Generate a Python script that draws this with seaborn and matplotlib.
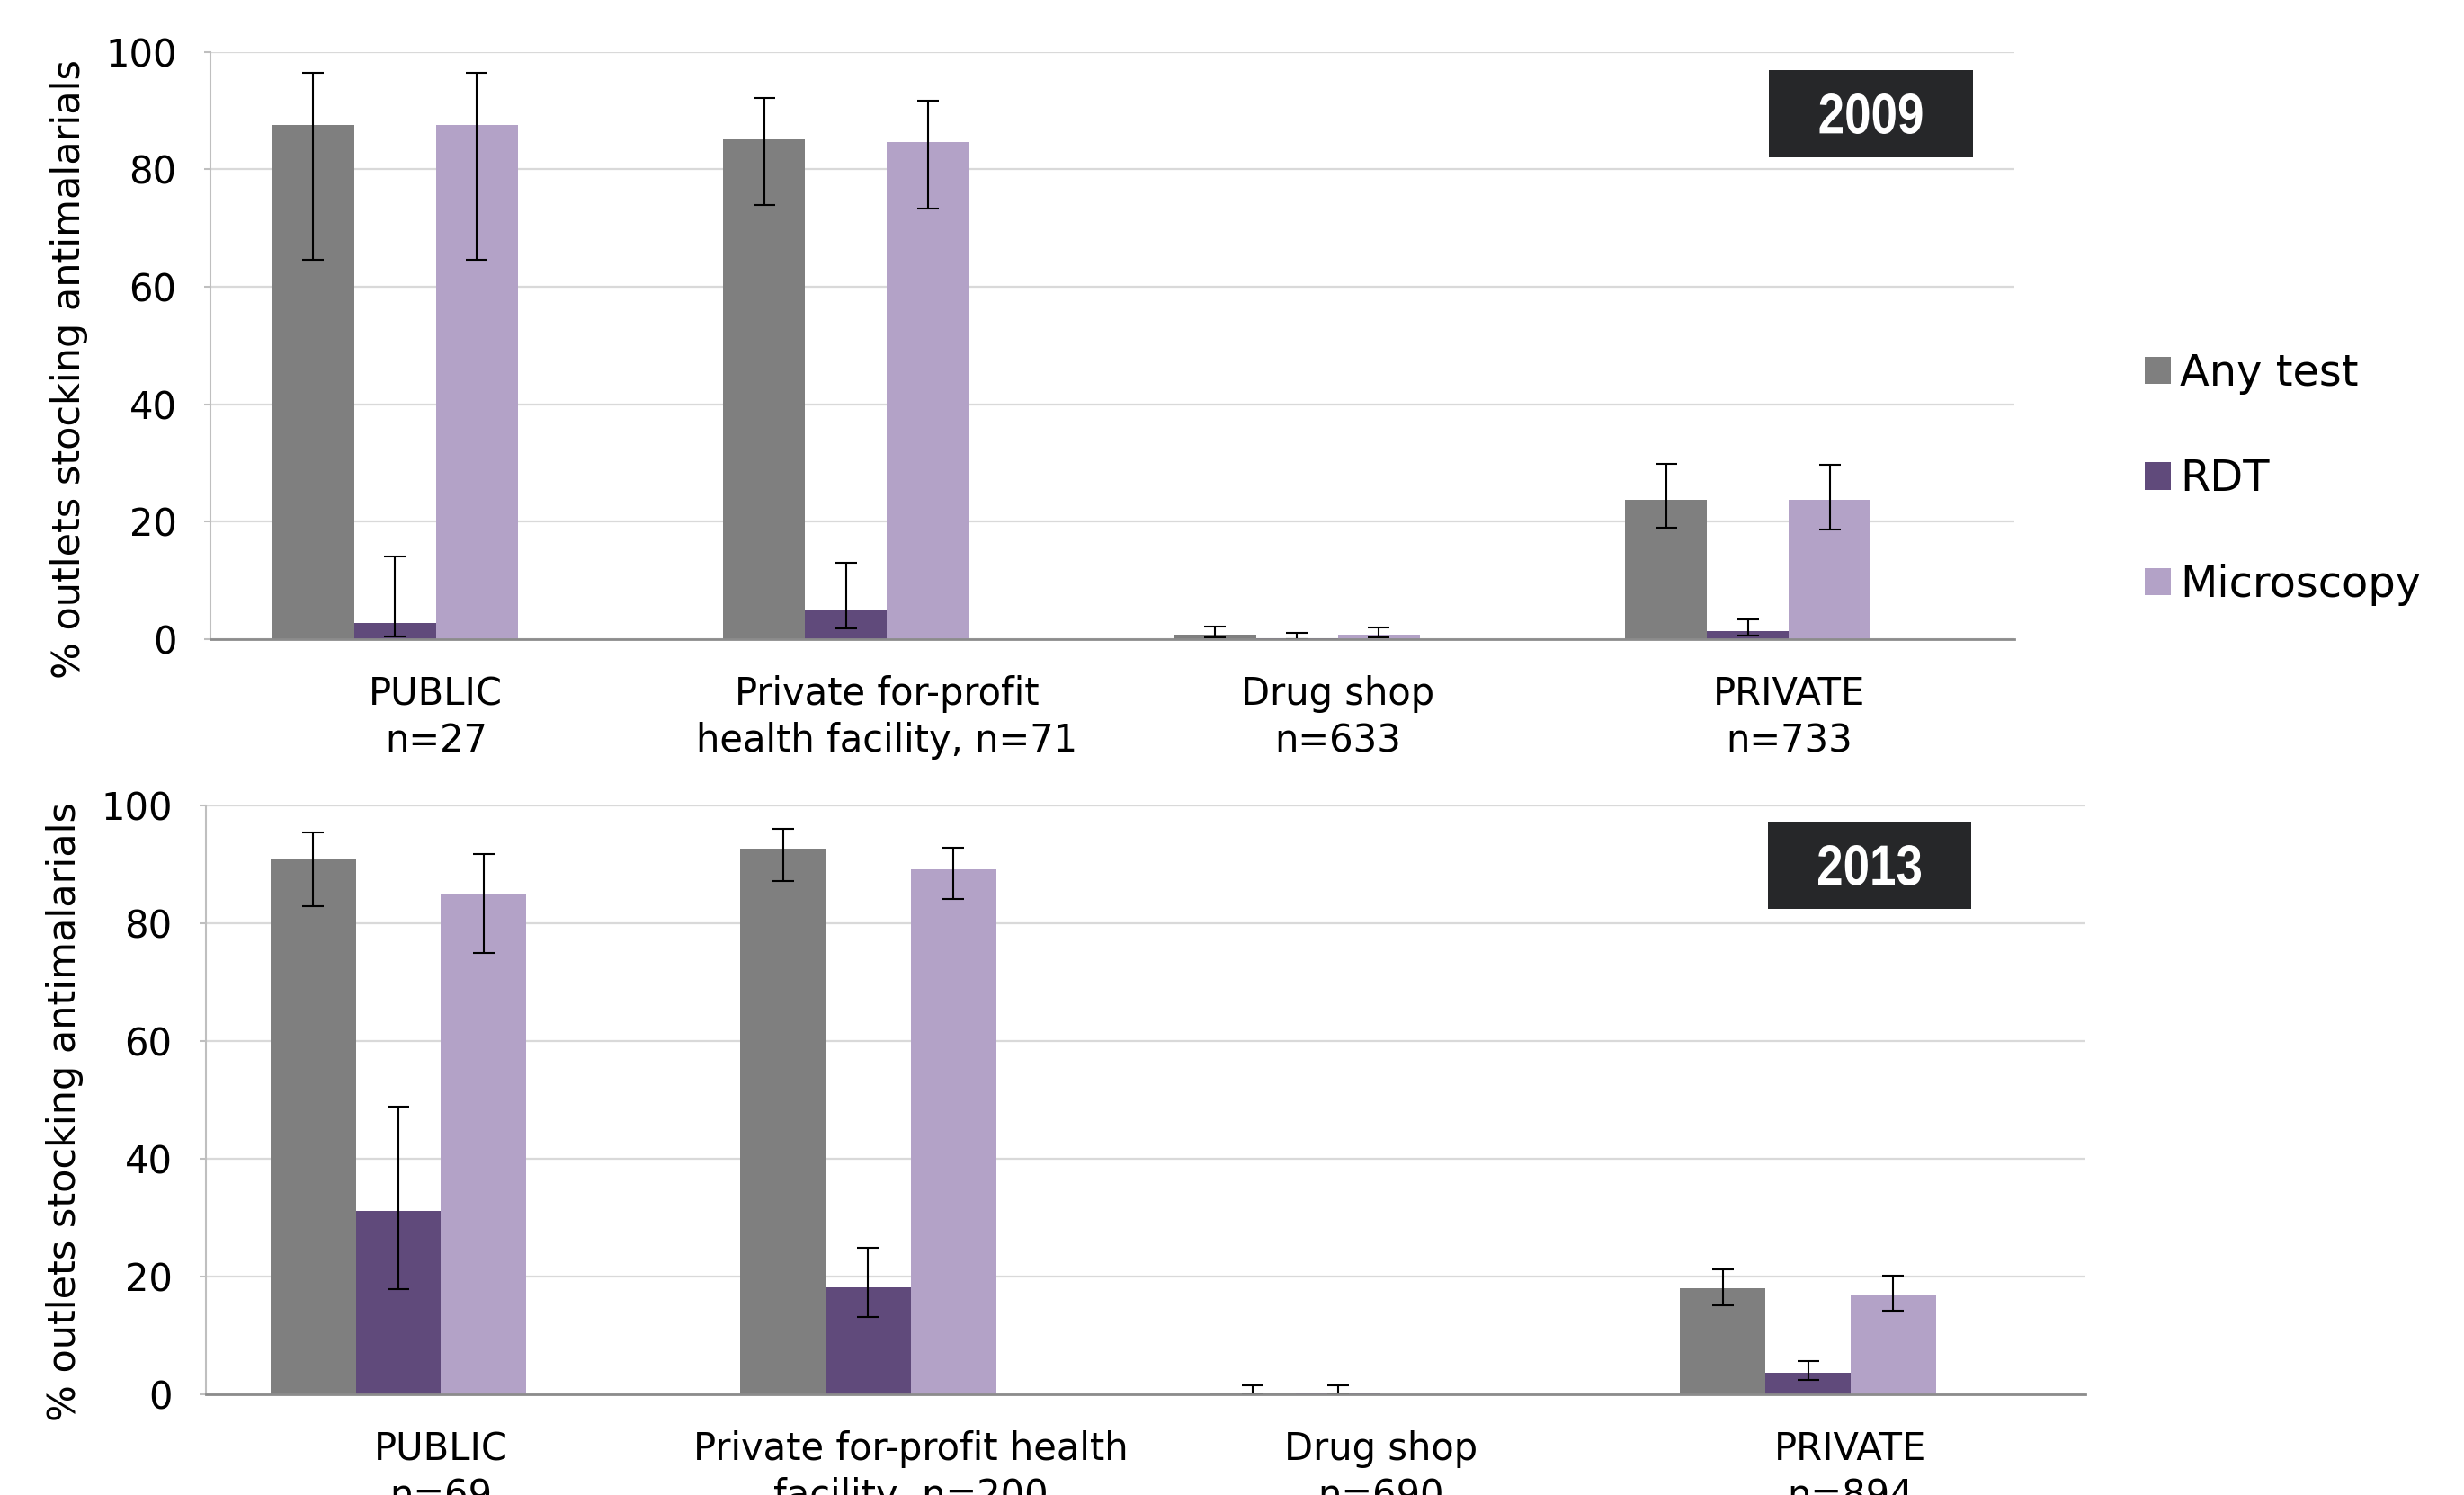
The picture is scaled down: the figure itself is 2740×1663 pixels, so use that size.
import numpy as np
import pandas as pd
import matplotlib
matplotlib.use("Agg")
import matplotlib.pyplot as plt
from matplotlib.patches import Patch, Rectangle, PathPatch
from matplotlib.textpath import TextPath
from matplotlib.font_manager import FontProperties
from matplotlib.transforms import Affine2D
import seaborn as sns

# ---- data -------------------------------------------------------------
series = ["Any test", "RDT", "Microscopy"]
colors = ["#7f7f7f", "#604a7b", "#b3a2c7"]

labels_2009 = ["PUBLIC\nn=27", "Private for-profit\nhealth facility, n=71",
               "Drug shop\nn=633", "PRIVATE\nn=733"]
labels_2013 = ["PUBLIC\nn=69", "Private for-profit health\nfacility, n=200",
               "Drug shop\nn=690", "PRIVATE\nn=894"]

any_2009 = [87.6, 85.2, 0.8, 23.8]
any_2009_lo = [64.6, 74.0, 0.3, 19.0]
any_2009_hi = [96.5, 92.1, 2.1, 29.9]
rdt_2009 = [2.8, 5.0, 0.15, 1.4]
rdt_2009_lo = [0.4, 1.8, 0.0, 0.6]
rdt_2009_hi = [14.1, 13.0, 1.0, 3.4]
mic_2009 = [87.6, 84.6, 0.8, 23.8]
mic_2009_lo = [64.6, 73.3, 0.3, 18.7]
mic_2009_hi = [96.5, 91.7, 2.0, 29.7]

any_2013 = [90.8, 92.7, 0.2, 18.0]
any_2013_lo = [82.9, 87.2, 0.0, 15.1]
any_2013_hi = [95.4, 96.0, 1.5, 21.3]
rdt_2013 = [31.2, 18.2, 0.2, 3.6]
rdt_2013_lo = [17.8, 13.1, 0.0, 2.5]
rdt_2013_hi = [48.8, 24.9, 1.5, 5.6]
mic_2013 = [85.0, 89.2, 0.05, 16.9]
mic_2013_lo = [74.9, 84.2, np.nan, 14.2]
mic_2013_hi = [91.7, 92.8, np.nan, 20.2]

yticks = [0, 20, 40, 60, 80, 100]

# ---- style ------------------------------------------------------------
sns.set_theme(style="white")
plt.rcParams["font.family"] = ["DejaVu Sans"]
plt.rcParams["text.color"] = "black"
plt.rcParams["axes.labelcolor"] = "black"

FS = 30
GRID = "#d9d9d9"
W, H = 2740, 1663

fig = plt.figure(figsize=(W / 100, H / 100), dpi=100)
ax_top = fig.add_axes([0.0854, 0.5725, 0.7321, 0.3927])
ax_bot = fig.add_axes([0.0836, 0.0673, 0.7628, 0.3939])

# an empty fourth slot keeps Excel-style spacing inside each cluster
hue_order = series + ["_pad"]
palette = dict(zip(hue_order, colors + ["white"]))


def year_badge(year, x0, y0, w, h, txt_w, txt_h):
    """Dark badge with a condensed bold year; pixel units, origin top-left."""
    fig.patches.append(Rectangle((x0 / W, 1 - (y0 + h) / H), w / W, h / H,
                                 transform=fig.transFigure,
                                 facecolor="#262729", edgecolor="none",
                                 zorder=10))
    tp = TextPath((0, 0), year, size=100,
                  prop=FontProperties(family=["Liberation Sans", "DejaVu Sans"],
                                      weight="bold"))
    ext = tp.get_extents()
    cx, cy = (ext.x0 + ext.x1) / 2, (ext.y0 + ext.y1) / 2
    sx, sy = txt_w / ext.width, txt_h / ext.height
    tr = (Affine2D().translate(-cx, -cy).scale(sx, sy)
          .translate(x0 + w / 2, H - (y0 + h / 2)))
    fig.patches.append(PathPatch(tp, transform=tr, facecolor="white",
                                 edgecolor="none", zorder=11))


def draw_panel(ax, labels, vals, los, his, ylabel_y):
    cats = [f"c{i}" for i in range(len(labels))]
    rows = []
    for s, v in zip(series, vals):
        for c, x in zip(cats, v):
            rows.append({"cat": c, "series": s, "value": x})
    df = pd.DataFrame(rows)

    sns.barplot(data=df, x="cat", y="value", hue="series", order=cats,
                hue_order=hue_order, palette=palette, width=0.725,
                saturation=1, errorbar=None, legend=False, ax=ax,
                edgecolor="none", linewidth=0, zorder=2)

    # confidence intervals on top of each bar
    for cont, v, lo, hi in zip(ax.containers, vals, los, his):
        xs = np.asarray([b.get_x() + b.get_width() / 2 for b in cont])
        v = np.asarray(v, float)
        lo = np.asarray(lo, float)
        hi = np.asarray(hi, float)
        ok = ~np.isnan(lo)
        ax.errorbar(xs[ok], v[ok],
                    yerr=[v[ok] - lo[ok], hi[ok] - v[ok]],
                    fmt="none", ecolor="black", elinewidth=1.5,
                    capsize=8.5, capthick=1.5, zorder=4)

    ax.set_xlim(-0.5, len(cats) - 0.5)
    ax.set_ylim(0, 100)
    ax.set_yticks(yticks)
    ax.set_yticklabels([str(t) for t in yticks], fontsize=FS)
    ax.set_xticks(range(len(cats)))
    ax.set_xticklabels(labels, fontsize=FS, linespacing=1.3)
    ax.set_xticks(np.arange(-0.5, len(cats)), minor=True)
    ax.tick_params(axis="x", which="major", length=0, pad=29,
                   labelcolor="black")
    ax.tick_params(axis="x", which="minor", length=9, width=1.5,
                   color="#8c8c8c", direction="out")
    ax.tick_params(axis="y", length=5, width=1.5, color="#bfbfbf",
                   direction="out", pad=22, left=True, labelcolor="black")
    ax.set_xlabel("")
    ax.set_ylabel("% outlets stocking antimalarials", fontsize=31,
                  labelpad=14)
    ax.yaxis.label.set_y(ylabel_y)
    ax.yaxis.grid(True, color=GRID, linewidth=1.6, zorder=0)
    ax.set_axisbelow(True)
    for side in ["top", "right"]:
        ax.spines[side].set_visible(False)
    ax.spines["left"].set_color("#bfbfbf")
    ax.spines["left"].set_linewidth(1.5)
    ax.spines["bottom"].set_color("#8c8c8c")
    ax.spines["bottom"].set_linewidth(2)
    ax.spines["bottom"].set_zorder(5)


draw_panel(ax_top, labels_2009,
           [any_2009, rdt_2009, mic_2009],
           [any_2009_lo, rdt_2009_lo, mic_2009_lo],
           [any_2009_hi, rdt_2009_hi, mic_2009_hi], 0.46)
draw_panel(ax_bot, labels_2013,
           [any_2013, rdt_2013, mic_2013],
           [any_2013_lo, rdt_2013_lo, mic_2013_lo],
           [any_2013_hi, rdt_2013_hi, mic_2013_hi], 0.48)

year_badge("2009", 1967, 78, 227, 97, 114, 45)
year_badge("2013", 1966, 914, 226, 97, 114, 45)

handles = [Patch(facecolor=c, edgecolor="none") for c in colors]
fig.legend(handles, series, loc="center left",
           bbox_to_anchor=(2385 / W, 1 - 533 / H),
           frameon=False, fontsize=34.5, handlelength=0.6, handleheight=0.6,
           handletextpad=0.22, labelspacing=1.47, borderpad=0,
           borderaxespad=0)

fig.savefig("out.png", dpi=100)
